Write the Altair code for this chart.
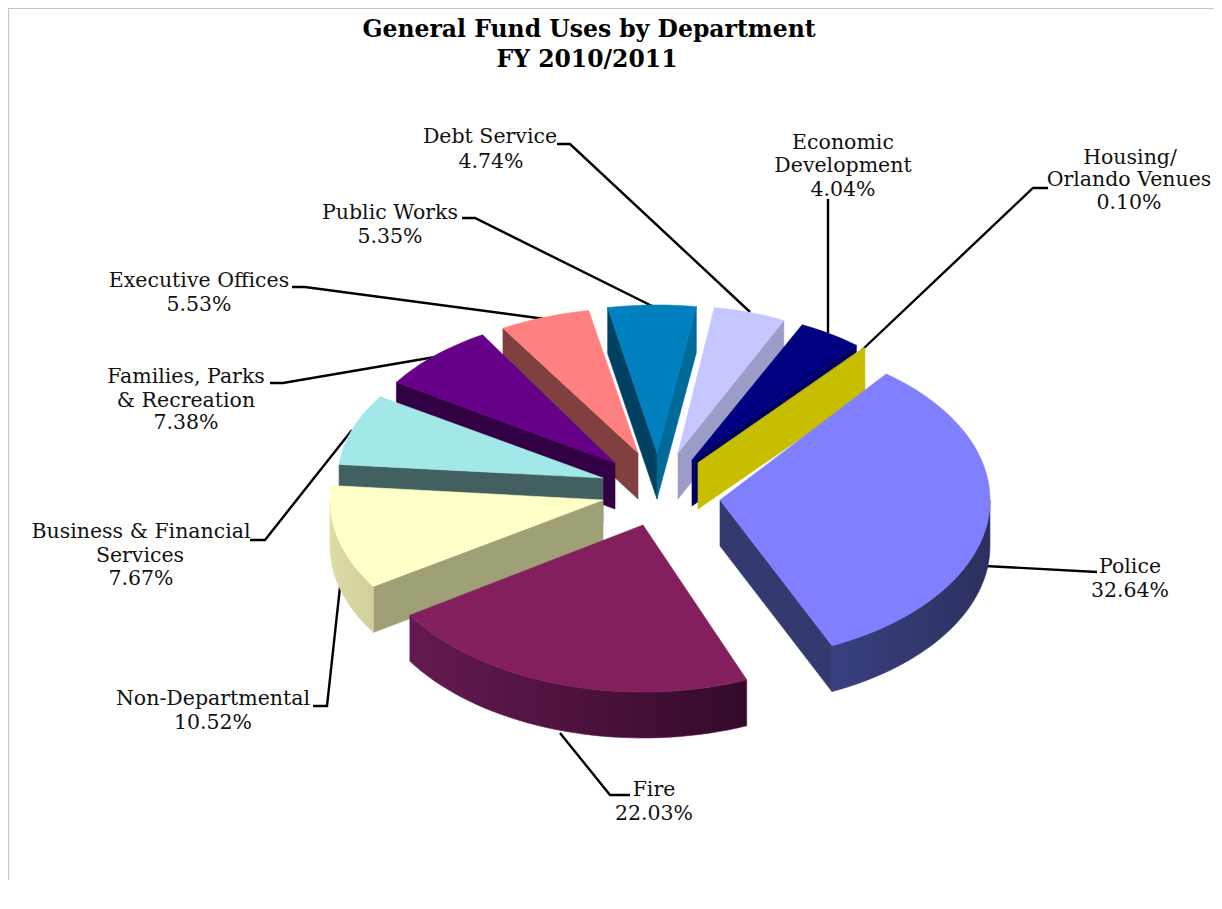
import math
import altair as alt
import pandas as pd

# ---- chart values -------------------------------------------------------
departments = ["Police", "Fire", "Non-Departmental", "Business & Financial Services",
               "Families, Parks & Recreation", "Executive Offices", "Public Works",
               "Debt Service", "Economic Development", "Housing/Orlando Venues"]
shares = [32.64, 22.03, 10.52, 7.67, 7.38, 5.53, 5.35, 4.74, 4.04, 0.10]

title_lines = ["General Fund Uses by Department", "FY 2010/2011"]
label_lines = [
    ["Police", "32.64%"],
    ["Fire", "22.03%"],
    ["Non-Departmental", "10.52%"],
    ["Business & Financial", "Services", "7.67%"],
    ["Families, Parks", "& Recreation", "7.38%"],
    ["Executive Offices", "5.53%"],
    ["Public Works", "5.35%"],
    ["Debt Service", "4.74%"],
    ["Economic", "Development", "4.04%"],
    ["Housing/", "Orlando Venues", "0.10%"],
]

# ---- styling and layout (picture pixels) --------------------------------
START_CLOCK = 40.5
DEPTH = 46
top_colors = ["#8080FF", "#841F5E", "#FFFFC8", "#A3E8E8", "#660088",
              "#FF8080", "#0080BE", "#C6C6FF", "#000080", "#C8BE00"]
side_colors = ["#34396F", "#5A1648", "#A0A078", "#436060", "#330044",
               "#804040", "#004060", "#9C9CC8", "#000060", "#C8BE00"]
end_side_colors = ["#34396F", "#5A1648", "#A0A078", "#436060", "#330044",
                   "#804040", "#006A98", "#9C9CC8", "#000060", "#C8BE00"]
rim_colors = [("#3A4080", "#2C305E"), ("#641A50", "#340A2A"), ("#DCDCA8", "#CFCF9C"),
              ("#436060", "#436060"), ("#330044", "#330044"), ("#804040", "#804040"),
              ("#004060", "#004060"), ("#9C9CC8", "#9C9CC8"), ("#000060", "#000060"),
              ("#C8BE00", "#C8BE00")]
# apex x, apex y, semi-axis x, semi-axis y of each exploded slice
slice_geometry = [(720, 500, 270, 160), (643, 525, 277, 167), (603, 500, 273, 160),
                  (603, 478, 265, 150), (615, 463, 260, 149), (638, 453, 265, 145),
                  (657, 453, 265, 148), (678, 453, 245, 147), (692, 460, 255, 150),
                  (698, 463, 257, 151)]
# small turn of a slice caused by the perspective of the original, in degrees
view_turn = [-2.5, 0, 0, 0, 0, 0, 0, 0, 0, 0]
paint_order = [6, 5, 7, 4, 8, 9, 3, 2, 0, 1]

title_pos = [(589, 30), (587, 60)]
label_pos = [
    [(1130, 567), (1130, 591)],
    [(654, 790), (654, 814)],
    [(213, 699), (213, 723)],
    [(141, 532), (140, 556), (141, 579)],
    [(186, 377), (186, 401), (186, 423)],
    [(199, 281), (199, 305)],
    [(390, 213), (390, 237)],
    [(490, 137), (491, 162)],
    [(843, 143), (843, 166), (843, 190)],
    [(1130, 158), (1129, 180), (1129, 203)],
]
leaders = [
    [(985, 566), (1097, 572)],
    [(630, 795), (610, 795), (560, 733)],
    [(313, 706), (327, 706), (340, 587)],
    [(250, 540), (265, 540), (352, 430)],
    [(270, 383), (283, 383), (435, 357)],
    [(292, 287), (305, 287), (545, 319)],
    [(462, 218), (475, 218), (652, 306)],
    [(557, 144), (570, 144), (750, 312)],
    [(828, 199), (828, 333)],
    [(1048, 188), (1033, 188), (862, 350)],
]
frame = [(1214, 8.5), (8.5, 8.5), (8.5, 880)]

W, H = 1206, 890
x_scale = alt.Scale(domain=[8, 8 + W], range=[0, W])
y_scale = alt.Scale(domain=[8, 8 + H], range=[0, H])
X = alt.X("x:Q", scale=x_scale, axis=None)
Y = alt.Y("y:Q", scale=y_scale, axis=None)


def path_df(points):
    return pd.DataFrame({"x": [p[0] for p in points], "y": [p[1] for p in points],
                         "i": list(range(len(points)))})


def polygon(points, fill):
    pts = list(points) + [points[0]]
    stroke = fill if isinstance(fill, str) else fill["stops"][0]["color"]
    return alt.Chart(path_df(pts)).mark_line(
        fill=fill, stroke=stroke, strokeWidth=0.6, clip=False
    ).encode(x=X, y=Y, order=alt.Order("i:Q"))


def gradient(c1, c2):
    return {"gradient": "linear", "x1": 0, "y1": 0, "x2": 1, "y2": 0,
            "stops": [{"offset": 0, "color": c1}, {"offset": 1, "color": c2}]}


def rim_point(geo, clock):
    ax, ay, a, b = geo
    r = math.radians(clock)
    return (ax + a * math.sin(r), ay - b * math.cos(r))


layers = []

# frame
layers.append(alt.Chart(path_df(frame)).mark_line(color="#C4C4C4", strokeWidth=1.2).encode(
    x=X, y=Y, order=alt.Order("i:Q")))

# slice boundaries from the shares
starts, clock = [], START_CLOCK
for s in shares:
    starts.append(clock)
    clock += s * 3.6

# leader lines are under the pie
for pts in leaders:
    layers.append(alt.Chart(path_df(pts)).mark_line(color="#000000", strokeWidth=2.4).encode(
        x=X, y=Y, order=alt.Order("i:Q")))

for k in paint_order:
    geo = slice_geometry[k]
    t0 = starts[k] + view_turn[k]
    t1 = t0 + shares[k] * 3.6
    apex = (geo[0], geo[1])
    steps = max(2, int((t1 - t0) / 2))
    clocks = [t0 + (t1 - t0) * j / steps for j in range(steps + 1)]
    rim = [rim_point(geo, c) for c in clocks]

    # radial side walls that face the viewer
    for edge, col in ((t0, side_colors[k]), (t1, end_side_colors[k])):
        n = edge % 360
        visible = (edge == t1 and 0 < n < 180) or (edge == t0 and 180 < n < 360)
        if visible:
            p = rim_point(geo, edge)
            layers.append(polygon([apex, p, (p[0], p[1] + DEPTH), (apex[0], apex[1] + DEPTH)], col))

    # outer curved wall, front half only
    lo, hi = max(t0, 90), min(t1, 270)
    if lo < hi:
        n_w = max(2, int((hi - lo) / 2))
        cw = [lo + (hi - lo) * j / n_w for j in range(n_w + 1)]
        rw = [rim_point(geo, c) for c in cw]
        wall = rw + [(p[0], p[1] + DEPTH) for p in reversed(rw)]
        c1, c2 = rim_colors[k]
        layers.append(polygon(wall, gradient(c1, c2)))

    # top face
    layers.append(polygon([apex] + rim, top_colors[k]))

# texts
rows = []
for lines, pos in zip(label_lines, label_pos):
    for line, (px, py) in zip(lines, pos):
        rows.append({"x": px, "y": py, "t": line})
layers.append(alt.Chart(pd.DataFrame(rows)).mark_text(
    font="DejaVu Serif", fontSize=20.5, color="#111111", align="center", baseline="middle"
).encode(x=X, y=Y, text="t:N"))

title_rows = [{"x": p[0], "y": p[1], "t": t} for t, p in zip(title_lines, title_pos)]
layers.append(alt.Chart(pd.DataFrame(title_rows)).mark_text(
    font="DejaVu Serif", fontSize=23.5, fontWeight="bold", color="#000000",
    align="center", baseline="middle"
).encode(x=X, y=Y, text="t:N"))

chart = alt.layer(*layers).properties(
    width=W, height=H, padding=0, autosize=alt.AutoSizeParams(type="none"), background="white"
).configure_view(stroke=None)

chart.save("out.html", embed_options={"renderer": "svg", "actions": False})
